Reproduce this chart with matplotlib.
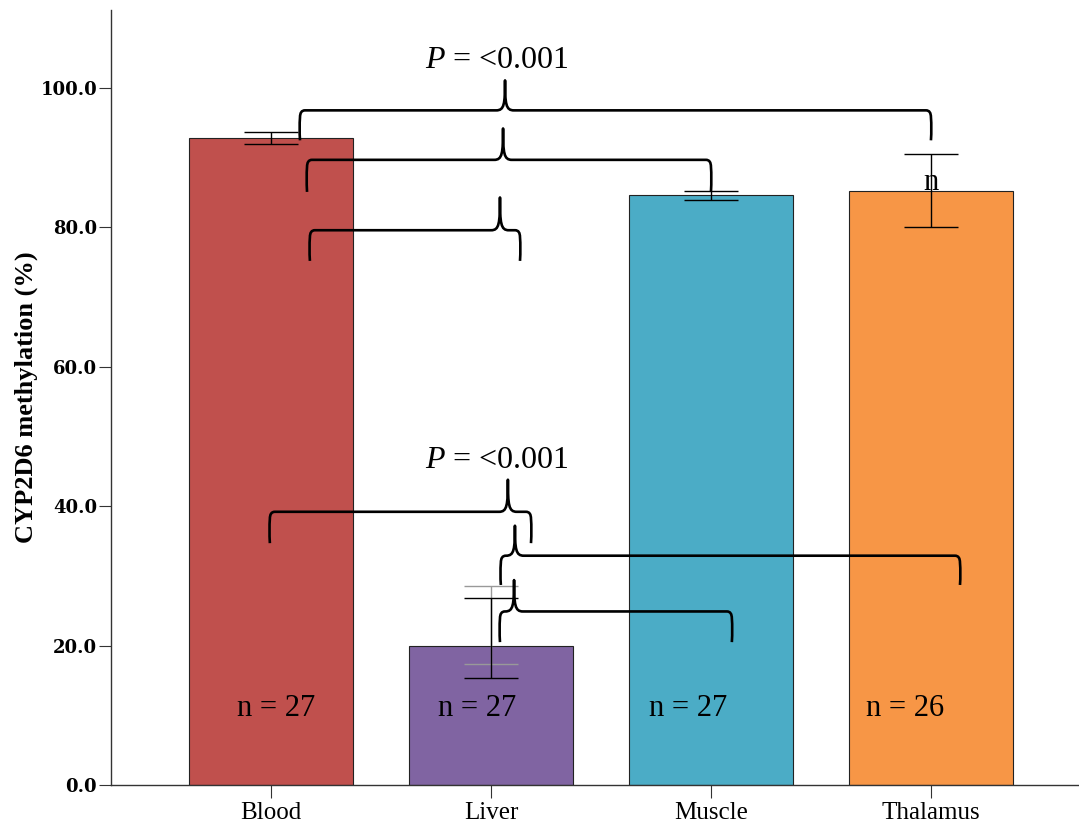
import matplotlib
matplotlib.use("Agg")
import matplotlib.pyplot as plt
from matplotlib.path import Path
from matplotlib.patches import PathPatch

plt.rcParams["mathtext.fontset"] = "custom"
plt.rcParams["mathtext.it"] = "Liberation Serif:italic"
plt.rcParams["mathtext.rm"] = "Liberation Serif"

categories = ["Blood", "Liver", "Muscle", "Thalamus"]
means = [92.8, 20.0, 84.6, 85.3]
err_low = [92.0, 15.4, 83.9, 80.1]
err_high = [93.7, 26.8, 85.2, 90.5]
liver_gray_low = 17.3
liver_gray_high = 28.6
n_labels = ["n = 27", "n = 27", "n = 27", "n = 26"]
colors = ["#C0504D", "#8064A2", "#4BACC6", "#F79646"]
yticks = [0, 20, 40, 60, 80, 100]
ytick_labels = ["0.0", "20.0", "40.0", "60.0", "80.0", "100.0"]
p_label = "<0.001"

# brace specs: (x_left, x_right, x_cusp, y_horiz, y_left_end, y_right_end, y_peak)
braces_top = [
    (0.132, 3.0, 1.064, 96.8, 92.5, 92.5, 101.1),
    (0.164, 2.0, 1.055, 89.7, 85.1, 85.1, 94.2),
    (0.177, 1.132, 1.041, 79.6, 75.2, 75.2, 84.3),
]
braces_bottom = [
    (-0.005, 1.182, 1.077, 39.2, 34.7, 34.7, 43.8),
    (1.045, 3.132, 1.109, 32.9, 28.7, 28.7, 37.2),
    (1.041, 2.095, 1.105, 24.9, 20.5, 20.5, 29.4),
]

fig = plt.figure(figsize=(10.79, 8.27), dpi=100)
ax = fig.add_axes([0.1029, 0.0508, 0.8971, 0.9371])

x = list(range(len(categories)))
ax.bar(x, means, width=0.745, color=colors, edgecolor="#222222", linewidth=0.8, zorder=2)

# liver gray (faint) errorbar
ax.errorbar([1], [means[1]], yerr=[[means[1] - liver_gray_low], [liver_gray_high - means[1]]],
            fmt="none", ecolor="#999999", elinewidth=1.0, capsize=19.5, capthick=1.0, zorder=3)
lo = [m - l for m, l in zip(means, err_low)]
hi = [h - m for m, h in zip(means, err_high)]
ax.errorbar(x, means, yerr=[lo, hi], fmt="none", ecolor="black", elinewidth=1.0,
            capsize=19.5, capthick=1.0, zorder=4)


def draw_brace(ax, spec):
    xl, xr, xc, yh, ybl, ybr, yp = spec
    rx = 0.022
    ry = 1.0
    w = 0.04
    verts = [
        (xl, ybl), (xl - 0.004, yh - ry * 2.5), (xl, yh - ry),
        (xl, yh), (xl + rx, yh),
        (xc - w, yh),
        (xc - 0.004, yh), (xc, yh + (yp - yh) * 0.2), (xc, yp),
        (xc, yh + (yp - yh) * 0.2), (xc + 0.004, yh), (xc + w, yh),
        (xr - rx, yh),
        (xr, yh), (xr, yh - ry),
        (xr + 0.004, yh - ry * 2.5), (xr, ybr),
    ]
    codes = [
        Path.MOVETO, Path.CURVE3, Path.CURVE3,
        Path.CURVE3, Path.CURVE3,
        Path.LINETO,
        Path.CURVE4, Path.CURVE4, Path.CURVE4,
        Path.CURVE4, Path.CURVE4, Path.CURVE4,
        Path.LINETO,
        Path.CURVE3, Path.CURVE3,
        Path.CURVE3, Path.CURVE3,
    ]
    patch = PathPatch(Path(verts, codes), facecolor="none", edgecolor="black",
                      linewidth=1.9, zorder=5, clip_on=False, capstyle="butt", joinstyle="round")
    ax.add_patch(patch)


for b in braces_top + braces_bottom:
    draw_brace(ax, b)

serif = "Liberation Serif"
ax.text(1.027, 104.0, r"$P$ = " + p_label, ha="center", va="center",
        fontsize=23, family=serif, zorder=6)
ax.text(1.027, 46.5, r"$P$ = " + p_label, ha="center", va="center",
        fontsize=23, family=serif, zorder=6)

n_x = [0.023, -0.064, -0.105, -0.118]
for i, lab in enumerate(n_labels):
    ax.text(i + n_x[i], 11.0, lab, ha="center", va="center", fontsize=22, family=serif, zorder=6)
ax.text(3.0, 86.4, "n", ha="center", va="center", fontsize=22, family=serif, zorder=6)

ax.set_xlim(-0.727, 3.673)
ax.set_ylim(0, 111.2)
ax.set_xticks(x)
ax.set_xticklabels(categories, fontsize=18, family=serif)
ax.set_yticks(yticks)
ax.set_yticklabels(ytick_labels, fontsize=13, family="DejaVu Serif", fontweight="bold")
ax.tick_params(axis="both", direction="out", length=9, width=0.8, color="#333333")
ax.tick_params(axis="y", pad=1)
ax.tick_params(axis="x", pad=3)
ax.set_ylabel("CYP2D6 methylation (%)", fontsize=19, family=serif, fontweight="bold", labelpad=2)
for s in ["top", "right"]:
    ax.spines[s].set_visible(False)
for s in ["left", "bottom"]:
    ax.spines[s].set_color("#333333")
    ax.spines[s].set_linewidth(1.0)

fig.savefig("out.png", dpi=100)
